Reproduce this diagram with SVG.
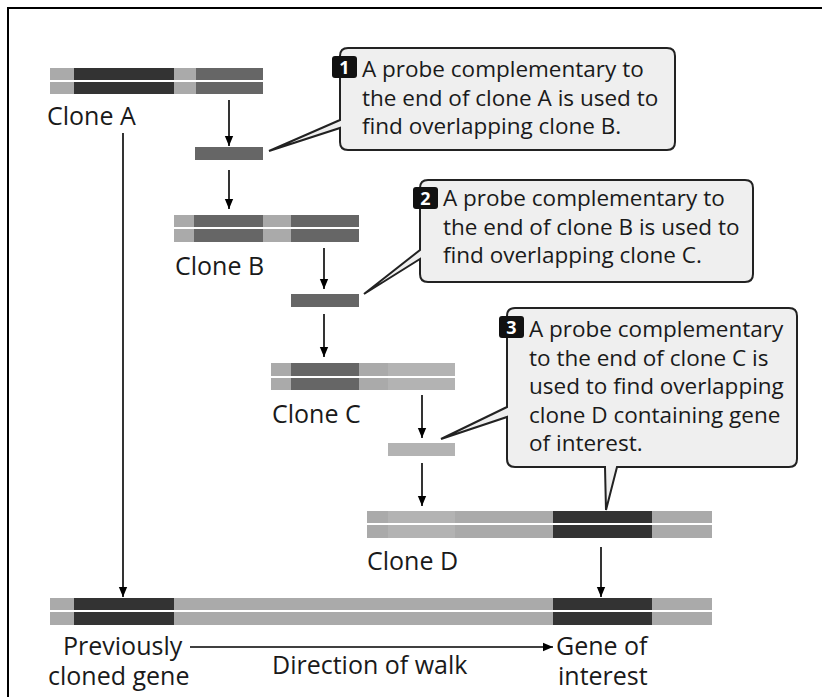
<svg xmlns="http://www.w3.org/2000/svg" width="822" height="697" viewBox="0 0 822 697">
<style>
.lbl{font-family:"Open Sans","Liberation Sans",sans-serif;font-size:25px;fill:#1a1a1a}
.co{font-family:"Open Sans","Liberation Sans",sans-serif;font-size:22.5px;fill:#1a1a1a}
.box{fill:#efefef;stroke:#222;stroke-width:2;stroke-linejoin:miter}
.badge{fill:#111}
.num{font-family:"Open Sans","Liberation Sans",sans-serif;font-size:18px;font-weight:bold;fill:#fff;text-anchor:middle}
.ar{stroke:#000;stroke-width:1.6;fill:none;marker-end:url(#ah)}
.d{fill:#333}.m{fill:#666}.l{fill:#aaa}.ll{fill:#b3b3b3}
</style>
<defs>
<marker id="ah" markerWidth="10" markerHeight="14" refX="12" refY="5" viewBox="0 0 12 10" orient="auto" markerUnits="userSpaceOnUse">
<path d="M0,0 L12,5 L0,10 Z" fill="#000"/>
</marker>
</defs>
<rect x="0" y="0" width="822" height="697" fill="#fff"/>
<rect x="8" y="8" width="830" height="720" fill="none" stroke="#000" stroke-width="2"/>

<g id="cloneA">
<rect class="l" x="50" y="68" width="24" height="12"/><rect class="d" x="74" y="68" width="100" height="12"/><rect class="l" x="174" y="68" width="22" height="12"/><rect class="m" x="196" y="68" width="67" height="12"/>
<rect class="l" x="50" y="82" width="24" height="12"/><rect class="d" x="74" y="82" width="100" height="12"/><rect class="l" x="174" y="82" width="22" height="12"/><rect class="m" x="196" y="82" width="67" height="12"/>
<text class="lbl" x="47" y="125">Clone A</text>
</g>
<g id="probe1"><rect class="m" x="195" y="147" width="68" height="13"/></g>
<g id="cloneB">
<rect class="l" x="174" y="215" width="20" height="12"/><rect class="m" x="194" y="215" width="69" height="12"/><rect class="l" x="263" y="215" width="28" height="12"/><rect class="m" x="291" y="215" width="68" height="12"/>
<rect class="l" x="174" y="229" width="20" height="13"/><rect class="m" x="194" y="229" width="69" height="13"/><rect class="l" x="263" y="229" width="28" height="13"/><rect class="m" x="291" y="229" width="68" height="13"/>
<text class="lbl" x="175" y="275">Clone B</text>
</g>
<g id="probe2"><rect class="m" x="291" y="294" width="68" height="13"/></g>
<g id="cloneC">
<rect class="l" x="271" y="363" width="20" height="13"/><rect class="m" x="291" y="363" width="68" height="13"/><rect class="l" x="359" y="363" width="29" height="13"/><rect class="ll" x="388" y="363" width="67" height="13"/>
<rect class="l" x="271" y="378" width="20" height="12"/><rect class="m" x="291" y="378" width="68" height="12"/><rect class="l" x="359" y="378" width="29" height="12"/><rect class="ll" x="388" y="378" width="67" height="12"/>
<text class="lbl" x="272" y="423">Clone C</text>
</g>
<g id="probe3"><rect class="ll" x="388" y="443" width="67" height="13"/></g>
<g id="cloneD">
<rect class="l" x="367" y="511" width="21" height="12"/><rect class="ll" x="388" y="511" width="67" height="12"/><rect class="l" x="455" y="511" width="98" height="12"/><rect class="d" x="553" y="511" width="99" height="12"/><rect class="l" x="652" y="511" width="60" height="12"/>
<rect class="l" x="367" y="525" width="21" height="13"/><rect class="ll" x="388" y="525" width="67" height="13"/><rect class="l" x="455" y="525" width="98" height="13"/><rect class="d" x="553" y="525" width="99" height="13"/><rect class="l" x="652" y="525" width="60" height="13"/>
<text class="lbl" x="367" y="570">Clone D</text>
</g>
<g id="chromosome">
<rect class="l" x="50" y="598" width="662" height="12"/><rect class="d" x="74" y="598" width="100" height="12"/><rect class="d" x="553" y="598" width="99" height="12"/>
<rect class="l" x="50" y="612" width="662" height="13"/><rect class="d" x="74" y="612" width="100" height="13"/><rect class="d" x="553" y="612" width="99" height="13"/>
<text class="lbl" x="63" y="655">Previously</text>
<text class="lbl" x="48" y="685">cloned gene</text>
<text class="lbl" x="272" y="674">Direction of walk</text>
<text class="lbl" x="556" y="655">Gene of</text>
<text class="lbl" x="558" y="685">interest</text>
</g>

<g id="connectors">
<line class="ar" x1="123" y1="133" x2="123" y2="597"/>
<line class="ar" x1="229" y1="100" x2="229" y2="146"/>
<line class="ar" x1="229" y1="170" x2="229" y2="209"/>
<line class="ar" x1="324" y1="248" x2="324" y2="289"/>
<line class="ar" x1="324" y1="314" x2="324" y2="357"/>
<line class="ar" x1="422" y1="395" x2="422" y2="438"/>
<line class="ar" x1="422" y1="463" x2="422" y2="506"/>
<line class="ar" x1="601" y1="547" x2="601" y2="597"/>
<line class="ar" x1="190" y1="647" x2="553" y2="647"/>
</g>

<g id="callout1">
<path class="box" d="M348,48 H667 Q675,48 675,56 V142 Q675,150 667,150 H348 Q340,150 340,142 V128 L269,151 L340,120 V56 Q340,48 348,48 Z"/>
<rect class="badge" x="332" y="56" width="25" height="22" rx="3"/>
<text class="num" x="344.5" y="74">1</text>
<text class="co" x="362" y="77">A probe complementary to</text>
<text class="co" x="362" y="105.5">the end of clone A is used to</text>
<text class="co" x="362" y="134">find overlapping clone B.</text>
</g>
<g id="callout2">
<path class="box" d="M428,180 H745 Q753,180 753,188 V274 Q753,282 745,282 H428 Q420,282 420,274 V259 L364,294 L420,250 V188 Q420,180 428,180 Z"/>
<rect class="badge" x="413" y="187" width="25" height="22" rx="3"/>
<text class="num" x="425.5" y="205">2</text>
<text class="co" x="443" y="206">A probe complementary to</text>
<text class="co" x="443" y="234.5">the end of clone B is used to</text>
<text class="co" x="443" y="263">find overlapping clone C.</text>
</g>
<g id="callout3">
<path class="box" d="M515,308 H789 Q797,308 797,316 V459 Q797,467 789,467 H617 L606,510 L605,467 H515 Q507,467 507,459 V417 L441,439 L507,407 V316 Q507,308 515,308 Z"/>
<rect class="badge" x="499" y="316" width="25" height="22" rx="3"/>
<text class="num" x="511.5" y="334">3</text>
<text class="co" x="529" y="337">A probe complementary</text>
<text class="co" x="529" y="365.5">to the end of clone C is</text>
<text class="co" x="529" y="394">used to find overlapping</text>
<text class="co" x="529" y="422.5">clone D containing gene</text>
<text class="co" x="529" y="451">of interest.</text>
</g>
</svg>
